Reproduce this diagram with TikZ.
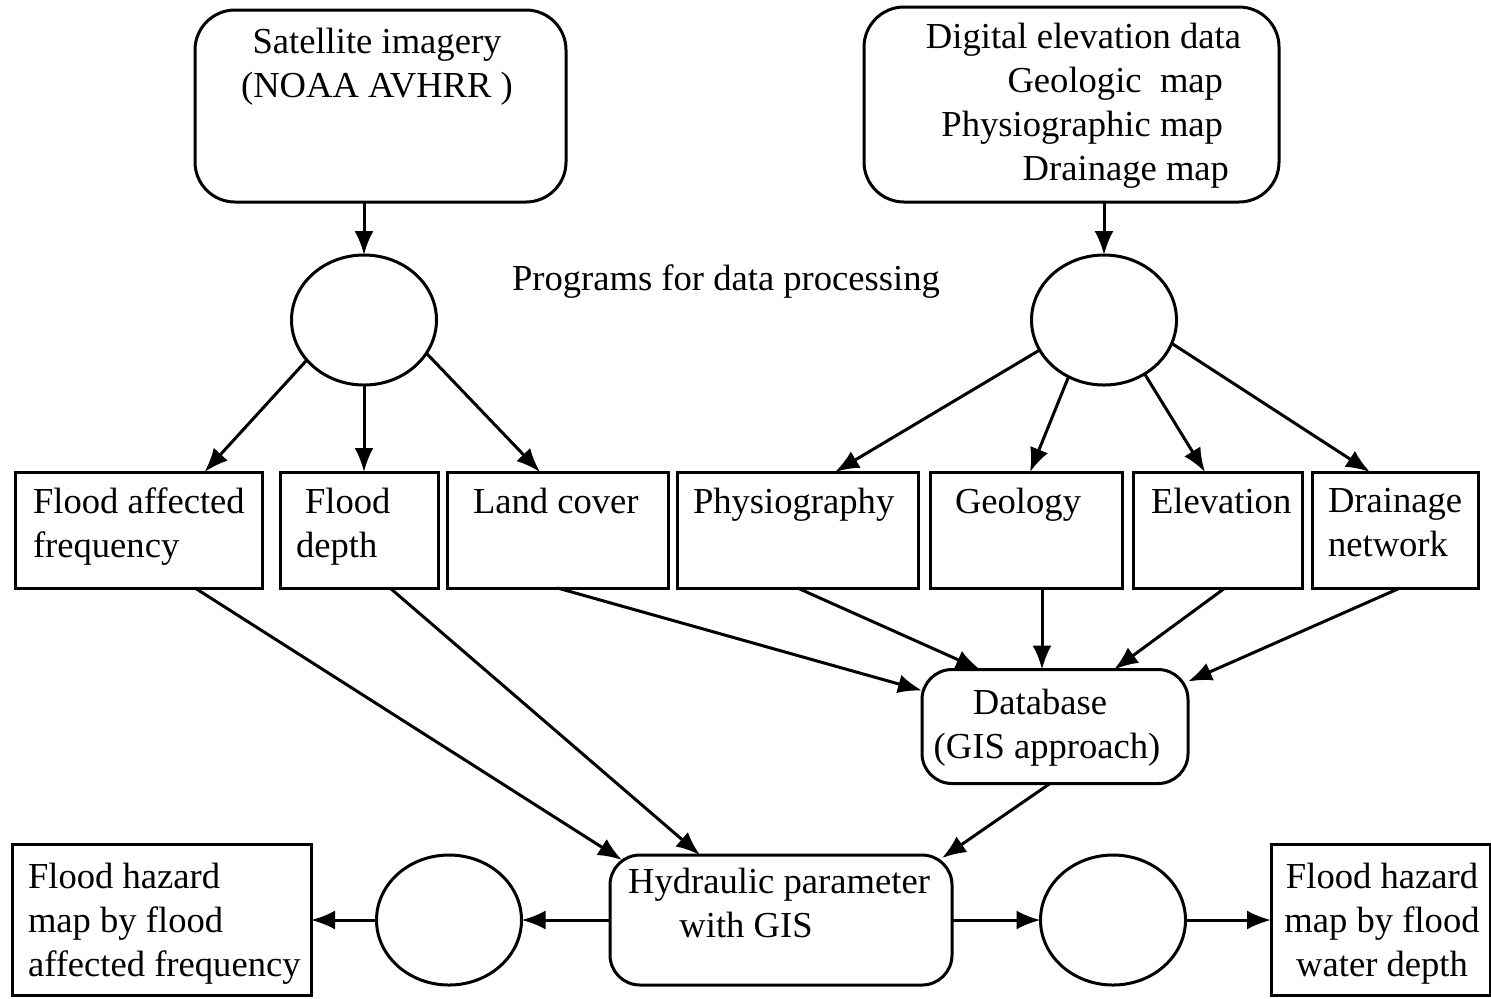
\documentclass[tikz,border=0pt]{standalone}
\usepackage{fontspec}
\setmainfont{Liberation Serif}
\usetikzlibrary{arrows.meta,shapes.geometric}
\begin{document}
\begin{tikzpicture}[x=0.5pt,y=-0.5pt,
  font=\fontsize{18.3}{22}\selectfont,
  every node/.style={inner sep=0pt, outer sep=0pt},
  line width=1.5pt,
  bigbox/.style={draw, rounded corners=20pt},
  midbox/.style={draw, rounded corners=15pt},
  sqbox/.style={draw},
  circ/.style={draw, ellipse, minimum width=72.5pt, minimum height=65pt},
  txtc/.style={align=center, anchor=north},
  txtl/.style={align=left, anchor=north west},
  arr/.style={-{Latex[length=12pt,width=9.5pt]}}]
\useasboundingbox (0,0) rectangle (1491,998);

% top sources
\node[bigbox, minimum width=185.5pt, minimum height=96pt] (sat) at (380.5,106) {};
\node[txtc] (sattxt) at (377,28) {Satellite imagery\\(NOAA AVHRR )};
\node[bigbox, minimum width=207.5pt, minimum height=97.5pt] (dem) at (1071.5,104.5) {};
\node[align=right, anchor=north east] (demtxt) at (1241,23)
  {Digital elevation data\\Geologic\ \ map\kern9pt\\Physiographic map\kern9pt\\Drainage map\kern6pt};

% processing circles
\node[circ] (c1) at (364,320) {};
\node[circ] (c2) at (1104,320) {};
\node[anchor=base] (prog) at (726,290) {Programs for data processing};

% row of boxes
\node[sqbox, minimum width=123.5pt, minimum height=58pt] (faf) at (138.5,530) {};
\node[sqbox, minimum width=79pt, minimum height=58pt] (fd) at (359,530) {};
\node[sqbox, minimum width=110.5pt, minimum height=58pt] (lc) at (557.5,530) {};
\node[sqbox, minimum width=120.5pt, minimum height=58pt] (ph) at (797.5,530) {};
\node[sqbox, minimum width=96pt, minimum height=58pt] (ge) at (1026,530) {};
\node[sqbox, minimum width=84.5pt, minimum height=58pt] (el) at (1217.5,530) {};
\node[sqbox, minimum width=83pt, minimum height=58pt] (dn) at (1395,530) {};

\node[txtl] (faft) at (33,488) {Flood affected\\frequency};
\node[txtl] (fdt) at (296,488) {\kern4.5pt Flood\\depth};
\node[txtl] (lct) at (473,488) {Land cover};
\node[txtl] (pht) at (693,488) {Physiography};
\node[txtl] (get) at (955,488) {Geology};
\node[txtl] (elt) at (1151,488) {Elevation};
\node[txtl] (dnt) at (1328,488) {Drainage\\network};

% database and hydraulic
\node[midbox, minimum width=133pt, minimum height=57pt] (db) at (1055,726.5) {};
\node[txtc] (dbt) at (1047,689) {Database\kern7pt\\(GIS approach)};
\node[midbox, minimum width=171pt, minimum height=65pt] (hy) at (781,920) {};
\node[txtc] (hyt) at (779,868) {Hydraulic parameter\\with GIS\kern33pt};

% bottom row
\node[circ] (c3) at (449,920) {};
\node[circ] (c4) at (1113,920) {};
\node[sqbox, minimum width=149.5pt, minimum height=75.5pt] (blb) at (161.5,920) {};
\node[txtl] (blt) at (28,863) {Flood hazard\\map by flood\\affected frequency};
\node[sqbox, minimum width=109.5pt, minimum height=75.5pt] (brb) at (1380.5,920) {};
\node[txtc] (brt) at (1382,863) {Flood hazard\\map by flood\\water depth};

% arrows from sources
\draw[arr] (sat.south -| c1.north) -- (c1.north);
\draw[arr] (dem.south -| c2.north) -- (c2.north);

% circle 1 fan
\draw[arr] (c1.215) -- ([xshift=33pt]faf.north);
\draw[arr] (c1.south) -- (c1.south |- fd.north);
\draw[arr] (c1.332) -- ([xshift=-8.75pt]lc.north);

% circle 2 fan
\draw[arr] (c2.205) -- ([xshift=18.75pt]ph.north);
\draw[arr] (c2.238) -- ([xshift=2pt]ge.north);
\draw[arr] (c2.307) -- ([xshift=-6.25pt]el.north);
\draw[arr] (c2.341) -- ([xshift=-12.5pt]dn.north);

% to hydraulic
\draw[arr] ([xshift=28.25pt]faf.south) -- ([xshift=6pt,yshift=-2.5pt]hy.north west);
\draw[arr] ([xshift=15.5pt]fd.south) -- ([xshift=-40.5pt]hy.north);

% to database
\draw[arr] (lc.south) -- ([yshift=18pt]db.west);
\draw[arr] (ph.south) -- ([xshift=-37.5pt]db.north);
\draw[arr] ([xshift=8pt]ge.south) -- ([xshift=8pt]ge.south |- db.north);
\draw[arr] ([xshift=3.75pt]el.south) -- ([xshift=29.5pt]db.north);
\draw[arr] ([xshift=2.5pt]dn.south) -- ([yshift=-6pt]db.north east);
\draw[arr] ([xshift=-2.5pt]db.south) -- ([xshift=-5pt,yshift=-1.5pt]hy.north east);

% bottom row arrows
\draw[arr] (hy.west) -- (c3.east);
\draw[arr] (c3.west) -- (blb.east);
\draw[arr] (hy.east) -- (c4.west);
\draw[arr] (c4.east) -- (brb.west);
\end{tikzpicture}
\end{document}
